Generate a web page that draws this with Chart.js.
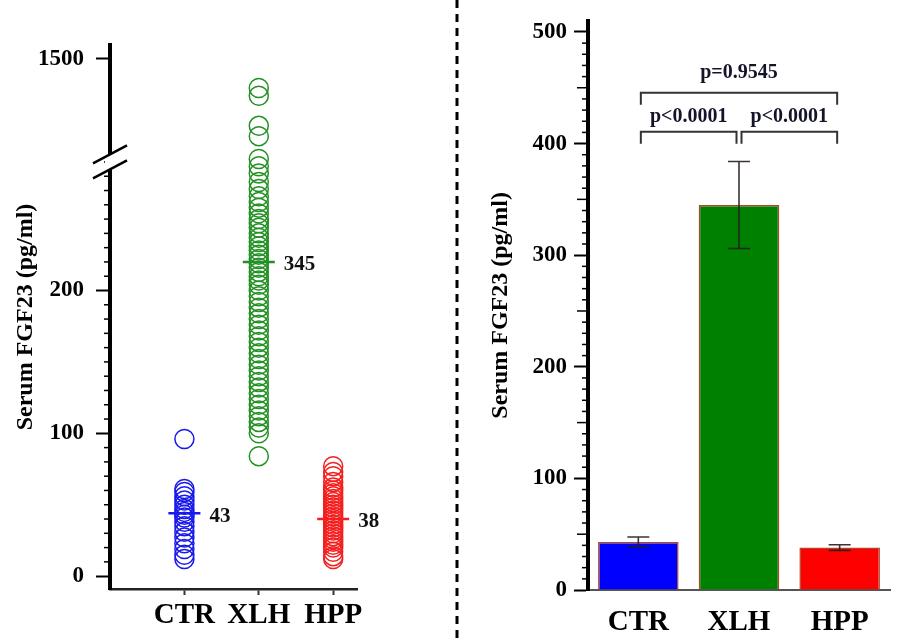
<!DOCTYPE html>
<html>
<head>
<meta charset="utf-8">
<title>Serum FGF23</title>
<script src="https://cdn.jsdelivr.net/npm/chart.js"></script>
<style>
  body { margin: 0; background: #fff; }
  #wrap { position: relative; width: 900px; height: 642px; }
  canvas { position: absolute; top: 0; }
  #left { left: 0; }
  #right { left: 450px; }
</style>
</head>
<body>
<div id="wrap">
  <canvas id="left" width="450" height="642"></canvas>
  <canvas id="right" width="450" height="642"></canvas>
</div>
<script>
// groups and individual values (left panel)
const groups = ['CTR', 'XLH', 'HPP'];
const ctrValues = [96, 61, 59, 56, 53, 50, 47, 45, 43, 41, 38, 35, 31, 27, 23, 19, 15, 12];
const xlhValues = [1160, 1070, 720, 600, 335,
  287, 282, 276, 271, 266, 262, 258, 254, 250, 247, 244, 240, 237, 234, 231, 228, 225,
  222, 219, 216, 213, 210, 207, 204, 200, 196, 192, 188, 184, 180, 176, 172, 168, 164,
  160, 156, 152, 148, 144, 140, 136, 132, 128, 124, 120, 116, 112, 108, 104, 100, 84];
const hppValues = [77, 73, 70, 66, 62, 60, 58, 56, 54, 52, 50, 48, 46, 44, 42, 40, 38, 36,
  34, 32, 30, 28, 26, 24, 22, 20, 17, 14, 12];
const meanMarks = [44, 220, 40];
const meanLabels = ['43', '345', '38'];
const leftTicks = [0, 100, 200, 1500];

// bar panel
const barMeans = [43, 345, 38];
const barErrors = [4.5, 39, 2.5];
const pairs = [[0, 1], [1, 2], [0, 2]];
const pLabels = ['p<0.0001', 'p<0.0001', 'p=0.9545'];
const rightTicks = [0, 100, 200, 300, 400, 500];

const SERIF = "'Liberation Serif', 'Times New Roman', serif";
const groupColors = ['rgb(25,25,235)', 'rgb(35,145,35)', 'rgb(245,30,30)'];
const barColors = ['#0000ff', '#008000', '#ff0000'];

// broken y axis: 290 -> 300 gap
const BREAK_LOW = 290, BREAK_HIGH = 300, BREAK_SPLIT = 0.785;

class BrokenLinearScale extends Chart.LinearScale {
  getPixelForValue(value) {
    if (value === null || isNaN(value)) return NaN;
    let dec;
    if (value <= BREAK_LOW) {
      dec = (value - this.min) / (BREAK_LOW - this.min) * BREAK_SPLIT;
    } else {
      dec = BREAK_SPLIT + (value - BREAK_HIGH) / (this.max - BREAK_HIGH) * (1 - BREAK_SPLIT);
    }
    return this.getPixelForDecimal(dec);
  }
  getValueForPixel(pixel) {
    const dec = this.getDecimalForPixel(pixel);
    if (dec <= BREAK_SPLIT) return this.min + dec / BREAK_SPLIT * (BREAK_LOW - this.min);
    return BREAK_HIGH + (dec - BREAK_SPLIT) / (1 - BREAK_SPLIT) * (this.max - BREAK_HIGH);
  }
}
BrokenLinearScale.id = 'brokenLinear';
BrokenLinearScale.defaults = Chart.LinearScale.defaults;
Chart.register(BrokenLinearScale);

function minorTicks(maxV, skipAbove) {
  return {
    id: 'minorTicks',
    afterDraw(chart) {
      const ctx = chart.ctx, ys = chart.scales.y, ax = chart.chartArea.left;
      ctx.save();
      ctx.strokeStyle = '#000';
      ctx.lineWidth = 1.5;
      for (let v = 10; v <= maxV; v += 10) {
        if (v % 100 === 0) continue;
        const len = (v % 50 === 0 && !skipAbove) ? 9 : 4;
        const py = ys.getPixelForValue(v);
        ctx.beginPath();
        ctx.moveTo(ax - len - 2, py);
        ctx.lineTo(ax, py);
        ctx.stroke();
      }
      ctx.restore();
    }
  };
}

const axisBreak = {
  id: 'axisBreak',
  afterDraw(chart) {
    const ctx = chart.ctx, ax = chart.chartArea.left;
    const bp = chart.scales.y.getPixelForDecimal(BREAK_SPLIT);
    const off = 7.5, slope = 9 / 17;
    ctx.save();
    ctx.fillStyle = '#fff';
    ctx.beginPath();
    ctx.moveTo(ax - 5, bp - off + 5 * slope);
    ctx.lineTo(ax + 5, bp - off - 5 * slope);
    ctx.lineTo(ax + 5, bp + off - 5 * slope);
    ctx.lineTo(ax - 5, bp + off + 5 * slope);
    ctx.closePath();
    ctx.fill();
    ctx.strokeStyle = '#000';
    ctx.lineWidth = 2.5;
    [-off, off].forEach(o => {
      ctx.beginPath();
      ctx.moveTo(ax - 17, bp + o + 9);
      ctx.lineTo(ax + 17, bp + o - 9);
      ctx.stroke();
    });
    ctx.restore();
  }
};

const meanText = {
  id: 'meanText',
  afterDatasetsDraw(chart) {
    const ctx = chart.ctx, xs = chart.scales.x, ys = chart.scales.y;
    ctx.save();
    ctx.font = 'bold 21px ' + SERIF;
    ctx.fillStyle = '#111';
    ctx.textAlign = 'left';
    ctx.textBaseline = 'middle';
    meanLabels.forEach((t, i) => {
      ctx.fillText(t, xs.getPixelForValue(i + 1) + 25, ys.getPixelForValue(meanMarks[i]) + 3);
    });
    ctx.restore();
  }
};

const groupValues = [ctrValues, xlhValues, hppValues];
const leftDatasets = groupValues.map((vals, i) => ({
  label: groups[i],
  data: vals.map(v => ({ x: i + 1, y: v })),
  pointStyle: 'circle',
  pointRadius: 9.5,
  pointBorderWidth: 1.5,
  pointBorderColor: groupColors[i],
  pointBackgroundColor: 'rgba(0,0,0,0)',
  order: 1
}));
groups.forEach((g, i) => leftDatasets.push({
  label: g + ' mean',
  data: [{ x: i + 1, y: meanMarks[i] }],
  pointStyle: 'line',
  pointRadius: 16,
  pointBorderWidth: 2.5,
  pointBorderColor: groupColors[i],
  order: -1
}));

new Chart(document.getElementById('left'), {
  type: 'scatter',
  data: { datasets: leftDatasets },
  options: {
    responsive: false,
    animation: false,
    layout: { padding: { top: 45, right: 93, left: 0, bottom: 0 } },
    plugins: { legend: { display: false }, tooltip: { enabled: false } },
    scales: {
      x: {
        type: 'linear', min: 0, max: 3.32,
        afterBuildTicks: s => { s.ticks = groups.map((g, i) => ({ value: i + 1 })); },
        ticks: {
          callback: v => groups[v - 1],
          font: { family: SERIF, size: 29, weight: 'bold' },
          color: '#000', padding: 3, maxRotation: 0, autoSkip: false
        },
        grid: { drawOnChartArea: false, tickLength: 6, tickColor: '#333', tickWidth: 2 },
        border: { color: '#222', width: 2.5 },
        afterFit: s => { s.height = 53; }
      },
      y: {
        type: 'brokenLinear', min: -9, max: 1660,
        afterBuildTicks: s => { s.ticks = leftTicks.map(v => ({ value: v })); },
        ticks: {
          callback: v => String(v),
          font: { family: SERIF, size: 23, weight: 'bold' }, color: '#000', padding: 12
        },
        grid: { drawOnChartArea: false, tickLength: 14, tickColor: '#000', tickWidth: 2 },
        border: { color: '#000', width: 4 },
        title: {
          display: true, text: 'Serum FGF23 (pg/ml)', color: '#000',
          font: { family: SERIF, size: 24, weight: 'bold' },
          padding: { top: 11, bottom: 0 }
        },
        afterFit: s => { s.width = 110; }
      }
    }
  },
  plugins: [minorTicks(290, true), axisBreak, meanText]
});

const divider = {
  id: 'divider',
  beforeDraw(chart) {
    const ctx = chart.ctx;
    ctx.save();
    ctx.strokeStyle = '#000';
    ctx.lineWidth = 3;
    ctx.setLineDash([8, 6]);
    ctx.beginPath();
    ctx.moveTo(7, 0);
    ctx.lineTo(7, chart.height);
    ctx.stroke();
    ctx.restore();
  }
};

const errorBars = {
  id: 'errorBars',
  afterDatasetsDraw(chart) {
    const ctx = chart.ctx, ys = chart.scales.y;
    const meta = chart.getDatasetMeta(0);
    ctx.save();
    ctx.strokeStyle = 'rgba(40,30,30,0.9)';
    ctx.lineWidth = 1.6;
    meta.data.forEach((bar, i) => {
      const top = ys.getPixelForValue(barMeans[i] + barErrors[i]);
      const bot = ys.getPixelForValue(barMeans[i] - barErrors[i]);
      ctx.beginPath();
      ctx.moveTo(bar.x, top); ctx.lineTo(bar.x, bot);
      ctx.moveTo(bar.x - 11, top); ctx.lineTo(bar.x + 11, top);
      ctx.moveTo(bar.x - 11, bot); ctx.lineTo(bar.x + 11, bot);
      ctx.stroke();
    });
    ctx.restore();
  }
};

const brackets = {
  id: 'brackets',
  afterDraw(chart, args, opts) {
    const ctx = chart.ctx, ys = chart.scales.y;
    const meta = chart.getDatasetMeta(0);
    ctx.save();
    ctx.strokeStyle = '#333';
    ctx.lineWidth = 2;
    ctx.fillStyle = '#141428';
    ctx.font = 'bold 20px ' + SERIF;
    ctx.textAlign = 'center';
    ctx.textBaseline = 'middle';
    pairs.forEach(([a, b], i) => {
      const x1 = meta.data[a].x + 2.5, x2 = meta.data[b].x - 2.5;
      const yl = ys.getPixelForValue(opts.levels[i]);
      ctx.beginPath();
      ctx.moveTo(x1, yl + 12); ctx.lineTo(x1, yl); ctx.lineTo(x2, yl); ctx.lineTo(x2, yl + 12);
      ctx.stroke();
      ctx.fillText(pLabels[i], (x1 + x2) / 2, yl - opts.gaps[i]);
    });
    ctx.restore();
  }
};

new Chart(document.getElementById('right'), {
  type: 'bar',
  data: {
    labels: groups,
    datasets: [{
      data: barMeans,
      backgroundColor: barColors,
      borderColor: 'rgb(175,70,40)',
      borderWidth: 1.5,
      barPercentage: 0.8,
      categoryPercentage: 1
    }]
  },
  options: {
    responsive: false,
    animation: false,
    layout: { padding: { top: 17, right: 10, left: 0, bottom: 0 } },
    plugins: {
      legend: { display: false },
      tooltip: { enabled: false },
      brackets: { levels: [410.5, 410.5, 445.5], gaps: [15, 15, 20] }
    },
    scales: {
      x: {
        grid: { display: false },
        border: { color: '#555', width: 2 },
        ticks: { font: { family: SERIF, size: 29, weight: 'bold' }, color: '#000', padding: 7 },
        afterFit: s => { s.height = 52; }
      },
      y: {
        min: 0, max: 510,
        afterBuildTicks: s => { s.ticks = rightTicks.map(v => ({ value: v })); },
        ticks: { font: { family: SERIF, size: 23, weight: 'bold' }, color: '#000', padding: 7 },
        grid: { drawOnChartArea: false, tickLength: 14, tickColor: '#000', tickWidth: 2 },
        border: { color: '#000', width: 4 },
        title: {
          display: true, text: 'Serum FGF23 (pg/ml)', color: '#000',
          font: { family: SERIF, size: 24, weight: 'bold' },
          padding: { top: 36, bottom: 0 }
        },
        afterFit: s => { s.width = 138; }
      }
    }
  },
  plugins: [divider, minorTicks(500, false), errorBars, brackets]
});
</script>
</body>
</html>
